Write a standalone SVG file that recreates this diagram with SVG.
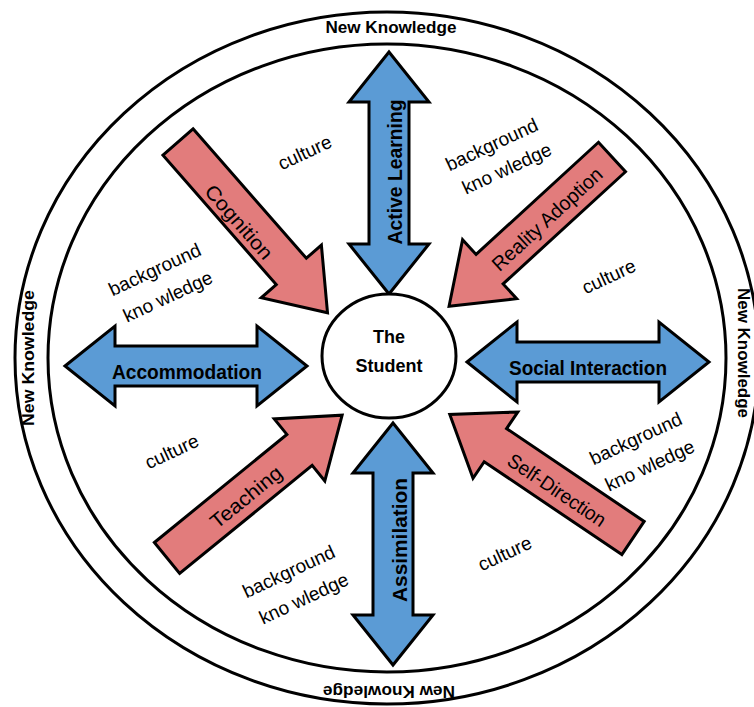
<svg xmlns="http://www.w3.org/2000/svg" width="754" height="707" viewBox="0 0 754 707">
<defs>
<style>
.ring{fill:none;stroke:#000;stroke-width:3}
.blue{fill:#5b9bd5;stroke:#000;stroke-width:3;stroke-linejoin:miter}
.pink{fill:#e27c7c;stroke:#000;stroke-width:3;stroke-linejoin:miter}
.nk{font-family:"Liberation Sans",Arial,sans-serif;font-weight:bold;font-size:17px;fill:#000;text-anchor:middle}
.bl{font-family:"Liberation Sans",Arial,sans-serif;font-weight:bold;font-size:21px;fill:#000;text-anchor:middle}
.pl{font-family:"Liberation Sans",Arial,sans-serif;font-size:20px;fill:#000;text-anchor:middle}
.lb{font-family:"Liberation Sans",Arial,sans-serif;font-size:19px;fill:#000;text-anchor:middle}
.st{font-family:"Liberation Sans",Arial,sans-serif;font-weight:bold;font-size:18px;fill:#000;text-anchor:middle}
</style>
<polygon id="dbl" points="-121,0 -71,-40 -71,-20 71,-20 71,-40 121,0 71,40 71,20 -71,20 -71,40"/>
</defs>
<rect width="754" height="707" fill="#fff"/>
<g id="rings">
<ellipse class="ring" cx="387" cy="358" rx="372" ry="346"/>
<ellipse class="ring" cx="387" cy="358" rx="339" ry="314"/>
<text class="nk" x="391" y="33" textLength="131" lengthAdjust="spacingAndGlyphs">New Knowledge</text>
<text class="nk" transform="translate(34,358) rotate(-90)" textLength="136" lengthAdjust="spacingAndGlyphs">New Knowledge</text>
<text class="nk" transform="translate(738,353) rotate(90)" textLength="130" lengthAdjust="spacingAndGlyphs">New Knowledge</text>
<text class="nk" transform="translate(389,686) rotate(180)" textLength="132" lengthAdjust="spacingAndGlyphs">New Knowledge</text>
</g>
<g id="connectors">
<g id="active-learning">
<use href="#dbl" class="blue" transform="translate(389,173) rotate(90)"/>
<text class="bl" transform="translate(402,172) rotate(-90)" textLength="145" lengthAdjust="spacingAndGlyphs">Active Learning</text>
</g>
<g id="assimilation">
<use href="#dbl" class="blue" transform="translate(393,544) rotate(90)"/>
<text class="bl" transform="translate(407,540) rotate(-90)" textLength="124" lengthAdjust="spacingAndGlyphs">Assimilation</text>
</g>
<g id="accommodation">
<use href="#dbl" class="blue" transform="translate(186,366)"/>
<text class="bl" x="187" y="379" textLength="150" lengthAdjust="spacingAndGlyphs">Accommodation</text>
</g>
<g id="social-interaction">
<use href="#dbl" class="blue" transform="translate(588,362)"/>
<text class="bl" x="588" y="375" textLength="158" lengthAdjust="spacingAndGlyphs">Social Interaction</text>
</g>
<g id="cognition">
<polygon class="pink" transform="translate(178,142) rotate(48.8)" points="0,-20 172,-20 172,-40 227,0 172,40 172,20 0,20"/>
<text class="pl" transform="translate(239,222) rotate(48.8)" y="7" textLength="92" lengthAdjust="spacingAndGlyphs">Cognition</text>
</g>
<g id="reality-adoption">
<polygon class="pink" transform="translate(612,157) rotate(137.5)" points="0,-20 166,-20 166,-40 221,0 166,40 166,20 0,20"/>
<text class="pl" transform="translate(547,219) rotate(-42.5)" y="7" textLength="142" lengthAdjust="spacingAndGlyphs">Reality Adoption</text>
</g>
<g id="self-direction">
<polygon class="pink" transform="translate(633,538) rotate(-146)" points="0,-20 166,-20 166,-40 221,0 166,40 166,20 0,20"/>
<text class="pl" transform="translate(557,490) rotate(34)" y="7" textLength="114" lengthAdjust="spacingAndGlyphs">Self-Direction</text>
</g>
<g id="teaching">
<polygon class="pink" transform="translate(167,558) rotate(-39.2)" points="0,-20 171,-20 171,-40 226,0 171,40 171,20 0,20"/>
<text class="pl" transform="translate(246,497) rotate(-39.2)" y="7" textLength="86" lengthAdjust="spacingAndGlyphs">Teaching</text>
</g>
</g>
<g id="the-student">
<ellipse cx="389" cy="356" rx="67" ry="62" fill="#fff" stroke="#000" stroke-width="3"/>
<text class="st" x="389" y="343">The</text>
<text class="st" x="389" y="372">Student</text>
</g>
<g id="labels">
<text class="lb" transform="translate(305,153) rotate(-25)" y="6">culture</text>
<text class="lb" transform="translate(492,145) rotate(-25)" y="6">background</text>
<text class="lb" transform="translate(507,169) rotate(-25)" y="6">kno wledge</text>
<text class="lb" transform="translate(609,277) rotate(-25)" y="6">culture</text>
<text class="lb" transform="translate(155,270) rotate(-25)" y="6">background</text>
<text class="lb" transform="translate(168,297) rotate(-25)" y="6">kno wledge</text>
<text class="lb" transform="translate(172,452) rotate(-25)" y="6">culture</text>
<text class="lb" transform="translate(636,439) rotate(-25)" y="6">background</text>
<text class="lb" transform="translate(650,466) rotate(-25)" y="6">kno wledge</text>
<text class="lb" transform="translate(505,554) rotate(-25)" y="6">culture</text>
<text class="lb" transform="translate(289,572) rotate(-25)" y="6">background</text>
<text class="lb" transform="translate(304,599) rotate(-25)" y="6">kno wledge</text>
</g>
</svg>
